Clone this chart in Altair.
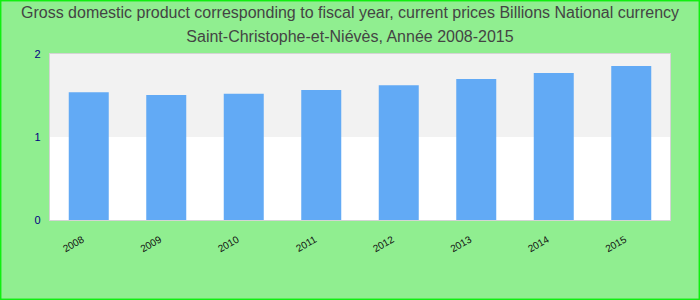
import altair as alt
import pandas as pd

years = ["2008", "2009", "2010", "2011", "2012", "2013", "2014", "2015"]
gdp = [1.54, 1.505, 1.52, 1.565, 1.625, 1.70, 1.77, 1.855]
band_lo = [0, 1]
band_hi = [1, 2]
band_col = ["#ffffff", "#f2f2f2"]
y_ticks = [0, 1, 2]
title_lines = [
    "Gross domestic product corresponding to fiscal year, current prices Billions National currency",
    "Saint-Christophe-et-Niévès, Année 2008-2015",
]

df = pd.DataFrame({"year": years, "gdp": gdp})
bands = pd.DataFrame({"lo": band_lo, "hi": band_hi, "c": band_col})

W, H = 620, 166

yaxis = alt.Axis(values=y_ticks, labelExpr="format(datum.value, 'd')", labelOverlap=False,
                 labelBound=False, labelFlush=False,
                 ticks=False, domain=False, grid=False,
                 labelPadding=10, labelColor="#000080", labelFontSize=11,
                 labelFont="Liberation Sans")

bg = alt.Chart(bands).mark_rect().encode(
    y=alt.Y("lo:Q", scale=alt.Scale(domain=[0, 2]), title=None, axis=yaxis),
    y2="hi:Q",
    x=alt.value(0),
    x2=alt.value(W),
    color=alt.Color("c:N", scale=None),
)

bars = alt.Chart(df).mark_bar(color="#62aaf5", size=40).encode(
    x=alt.X("year:N", sort=years, title=None,
            axis=alt.Axis(labelAngle=-30, labelAlign="right", labelBaseline="top",
                          labelPadding=14, labelOffset=-8, ticks=False, domain=False,
                          labelColor="#111111", labelFontSize=10, labelFont="Liberation Sans")),
    y=alt.Y("gdp:Q", scale=alt.Scale(domain=[0, 2]), title=None, axis=yaxis),
)

border = alt.Chart(bands).mark_rect(fillOpacity=0, stroke="#11ee11", strokeWidth=1.5, clip=False).encode(
    x=alt.value(-49.5), x2=alt.value(649.5), y=alt.value(-53.5), y2=alt.value(245.5)
)

t1 = alt.Chart(pd.DataFrame({"t": [title_lines[0]]})).mark_text(
    fontSize=16, font="Liberation Sans", color="#444444", baseline="middle", clip=False
).encode(text="t:N", x=alt.value(300), y=alt.value(-41))
t2 = alt.Chart(pd.DataFrame({"t": [title_lines[1]]})).mark_text(
    fontSize=16, font="Liberation Sans", color="#444444", baseline="middle", clip=False
).encode(text="t:N", x=alt.value(300), y=alt.value(-17))

chart = alt.layer(bg, bars, border, t1, t2).resolve_axis(y="shared").properties(
    width=W, height=H,
    background="#90ee90",
    padding={"left": 50, "top": 54, "right": 30, "bottom": 80},
    autosize=alt.AutoSizeParams(type="none"),
).configure_view(stroke="#d4d4d4", strokeWidth=2)

chart.save("out.html", embed_options={"renderer": "svg", "actions": False})
